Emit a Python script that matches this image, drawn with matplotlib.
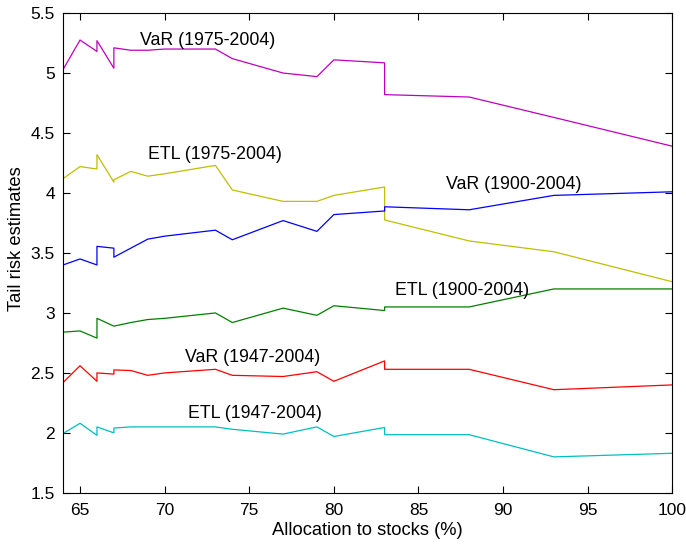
import matplotlib.pyplot as plt
import numpy as np

plt.rcParams['font.family'] = ['Liberation Sans', 'DejaVu Sans']

# allocation grid (repeated x values give the vertical jumps)
alloc = [64, 65, 66, 66, 67, 67, 68, 69, 70, 73, 74, 77, 79, 80, 83, 83, 88, 93, 100]

var_1975 = [5.03, 5.275, 5.18, 5.27, 5.04, 5.21, 5.19, 5.19, 5.20, 5.20, 5.12, 5.00, 4.97,
            5.11, 5.085, 4.82, 4.80, 4.63, 4.39]
etl_1975 = [4.12, 4.22, 4.20, 4.32, 4.09, 4.11, 4.18, 4.14, 4.16, 4.23, 4.025, 3.93, 3.93,
            3.98, 4.05, 3.775, 3.60, 3.51, 3.26]
var_1900 = [3.40, 3.45, 3.40, 3.555, 3.54, 3.465, 3.54, 3.615, 3.64, 3.69, 3.61, 3.77, 3.68,
            3.82, 3.85, 3.885, 3.86, 3.98, 4.01]
etl_1900 = [2.84, 2.85, 2.79, 2.955, 2.89, 2.89, 2.92, 2.945, 2.955, 3.00, 2.92, 3.04, 2.98,
            3.06, 3.02, 3.05, 3.05, 3.20, 3.20]
var_1947 = [2.42, 2.56, 2.43, 2.50, 2.49, 2.525, 2.52, 2.48, 2.50, 2.53, 2.48, 2.47, 2.51,
            2.43, 2.60, 2.53, 2.53, 2.36, 2.40]
etl_1947 = [1.995, 2.08, 1.98, 2.05, 2.00, 2.04, 2.05, 2.05, 2.05, 2.05, 2.03, 1.99, 2.05,
            1.97, 2.045, 1.985, 1.985, 1.80, 1.83]

series = [var_1975, etl_1975, var_1900, etl_1900, var_1947, etl_1947]
colors = ['#bf00bf', '#bfbf00', '#0000ff', '#008000', '#ff0000', '#00bfbf']
labels = ['VaR (1975-2004)', 'ETL (1975-2004)', 'VaR (1900-2004)',
          'ETL (1900-2004)', 'VaR (1947-2004)', 'ETL (1947-2004)']
label_pos = [(68.55, 5.275), (69.0, 4.32), (86.6, 4.07), (83.6, 3.19), (71.2, 2.63), (71.4, 2.16)]

fig = plt.figure(figsize=(6.86, 5.44), dpi=100)
ax = fig.add_axes([0.092, 0.094, 0.888, 0.882])

for y, c in zip(series, colors):
    ax.plot(alloc, y, color=c, lw=0.9)

for lab, (tx, ty) in zip(labels, label_pos):
    ax.text(tx, ty, lab, fontsize=12.8, va='center', ha='left')

ax.set_xlim(64, 100)
ax.set_ylim(1.5, 5.5)
ax.set_xticks(np.arange(65, 101, 5))
ax.set_yticks(np.arange(1.5, 5.51, 0.5))
ax.set_yticklabels(['1.5', '2', '2.5', '3', '3.5', '4', '4.5', '5', '5.5'])
ax.tick_params(direction='in', top=True, right=True, labelsize=12.5, length=5)
ax.tick_params(axis='y', pad=6)
ax.tick_params(axis='x', pad=7)
ax.set_xlabel('Allocation to stocks (%)', fontsize=13.2, labelpad=3)
ax.set_ylabel('Tail risk estimates', fontsize=13.2)
ax.yaxis.set_label_coords(-0.062, 0.53)

fig.savefig('out.png', dpi=100)
